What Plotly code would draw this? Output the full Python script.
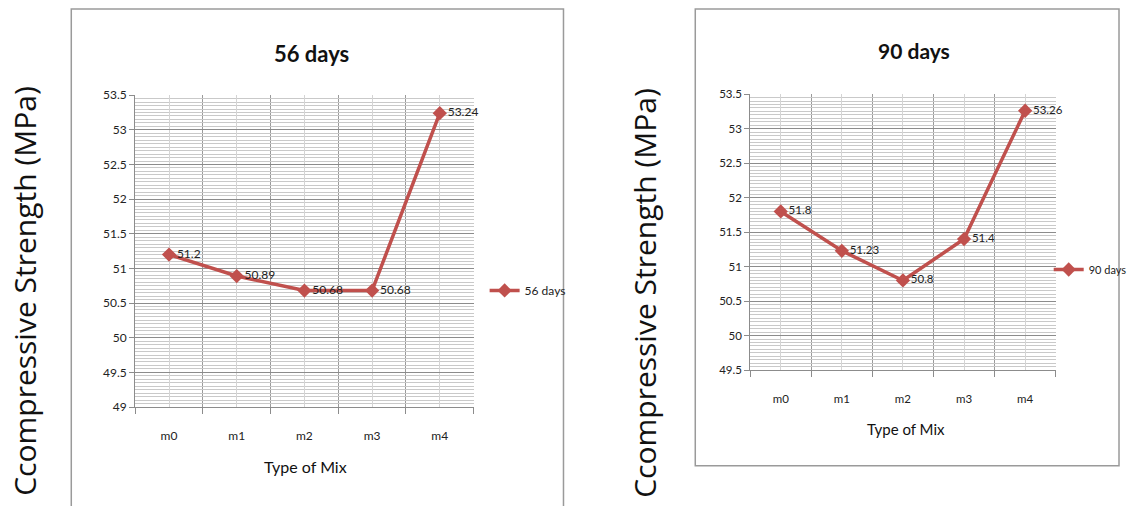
import plotly.graph_objects as go

mixes = ["m0", "m1", "m2", "m3", "m4"]
strength_56 = [51.2, 50.89, 50.68, 50.68, 53.24]
strength_90 = [51.8, 51.23, 50.8, 51.4, 53.26]
labels_56 = ["51.2", "50.89", "50.68", "50.68", "53.24"]
labels_90 = ["51.8", "51.23", "50.8", "51.4", "53.26"]

W, H = 1132, 506
NARROW = "Lato, Roboto, sans-serif"
RED = "#C0504D"


def px(x):
    # compensate the horizontal placement observed in the rendered page
    xf = (x - 0.6) / 0.991
    return xf / W


def py(y):
    # compensate the vertical placement observed in the rendered page
    yf = (y - 7.5) / 0.974
    return 1 - yf / H


xpos = list(range(len(mixes)))

fig = go.Figure()
fig.add_trace(go.Scatter(
    x=xpos, y=strength_56, mode="lines+markers+text", name="56 days",
    text=labels_56, textposition="middle right",
    textfont=dict(family=NARROW, size=12, color="#222"),
    line=dict(color=RED, width=3.5), marker=dict(symbol="diamond", size=11, color=RED),
    xaxis="x", yaxis="y", legend="legend", cliponaxis=False))
fig.add_trace(go.Scatter(
    x=xpos, y=strength_90, mode="lines+markers+text", name="90 days",
    text=labels_90, textposition="middle right",
    textfont=dict(family=NARROW, size=11.5, color="#222"),
    line=dict(color=RED, width=3.5), marker=dict(symbol="diamond", size=11, color=RED),
    xaxis="x2", yaxis="y2", legend="legend2", cliponaxis=False))


def xaxis_cfg(domain, anchor, fsize):
    return dict(
        domain=domain, anchor=anchor, range=[-0.5, len(mixes) - 0.5],
        tickmode="array", tickvals=xpos, ticktext=mixes,
        showgrid=True, gridcolor="#d4d4d4", gridwidth=1,
        ticks="", showline=True, linecolor="#8c8c8c", linewidth=1,
        zeroline=False, ticklabelstandoff=18,
        tickfont=dict(family=NARROW, size=fsize, color="#222"),
        minor=dict(tickmode="array", tickvals=[v - 0.5 for v in range(len(mixes) + 1)],
                   ticks="outside", ticklen=6, tickcolor="#8c8c8c",
                   showgrid=True, gridcolor="#9a9a9a", gridwidth=1),
        fixedrange=True)


def yaxis_cfg(domain, anchor, rng, fsize):
    return dict(
        domain=domain, anchor=anchor, range=rng, dtick=0.5, tick0=49,
        showgrid=True, gridcolor="#8c8c8c", gridwidth=1,
        ticks="outside", ticklen=5, tickcolor="#8c8c8c",
        showline=True, linecolor="#8c8c8c", linewidth=1, zeroline=False,
        tickfont=dict(family=NARROW, size=fsize, color="#222"),
        minor=dict(dtick=0.05, tick0=49, showgrid=True, gridcolor="#c9c9c9", gridwidth=1),
        fixedrange=True)


fig.update_layout(
    width=W, height=H, margin=dict(l=0, r=0, t=0, b=0),
    paper_bgcolor="white", plot_bgcolor="white",
    xaxis=xaxis_cfg([px(136), px(475)], "y", 12),
    yaxis=yaxis_cfg([py(408), py(95)], "x", [49, 53.5], 12),
    xaxis2=xaxis_cfg([px(752), px(1058)], "y2", 11.5),
    yaxis2=yaxis_cfg([py(371), py(94)], "x2", [49.5, 53.5], 11.5),
    legend=dict(x=px(486), y=py(291), xanchor="left", yanchor="middle",
                font=dict(family=NARROW, size=12, color="#222"),
                bgcolor="rgba(0,0,0,0)", itemwidth=30),
    legend2=dict(x=px(1051), y=py(270), xanchor="left", yanchor="middle",
                 font=dict(family=NARROW, size=11, color="#222"),
                 bgcolor="rgba(0,0,0,0)", itemwidth=30),
    showlegend=True,
)

shapes = [
    dict(type="rect", xref="paper", yref="paper", x0=px(72), x1=px(565), y0=py(530), y1=py(8.5),
         line=dict(color="#9a9a9a", width=1.5), fillcolor="rgba(0,0,0,0)", layer="below"),
    dict(type="rect", xref="paper", yref="paper", x0=px(697), x1=1131 / W, y0=py(467), y1=py(8.5),
         line=dict(color="#9a9a9a", width=1.5), fillcolor="rgba(0,0,0,0)", layer="below"),
]
fig.update_layout(shapes=shapes)

annos = [
    dict(text="<b>56 days</b>", x=px(313), y=py(53), font=dict(family=NARROW, size=22, color="#111")),
    dict(text="<b>90 days</b>", x=px(916), y=py(50), font=dict(family=NARROW, size=21, color="#111")),
    dict(text="Type of Mix", x=px(307), y=py(468), font=dict(family=NARROW, size=16, color="#111")),
    dict(text="Type of Mix", x=px(908), y=py(430), font=dict(family=NARROW, size=15, color="#111")),
    dict(text="Ccompressive Strength (MPa)", x=px(25), y=py(291), textangle=-90,
         font=dict(family="Open Sans, Noto Sans, sans-serif", size=30, color="#111")),
    dict(text="Ccompressive Strength (MPa)", x=px(646), y=py(293), textangle=-90,
         font=dict(family="Open Sans, Noto Sans, sans-serif", size=30, color="#111")),
]
for a in annos:
    a.update(xref="paper", yref="paper", showarrow=False, xanchor="center", yanchor="middle")
fig.update_layout(annotations=annos)

fig.write_html(
    "out.html",
    config={"displayModeBar": False, "staticPlot": True},
    post_script="document.body.style.margin='0';document.body.style.overflow='hidden';",
)
